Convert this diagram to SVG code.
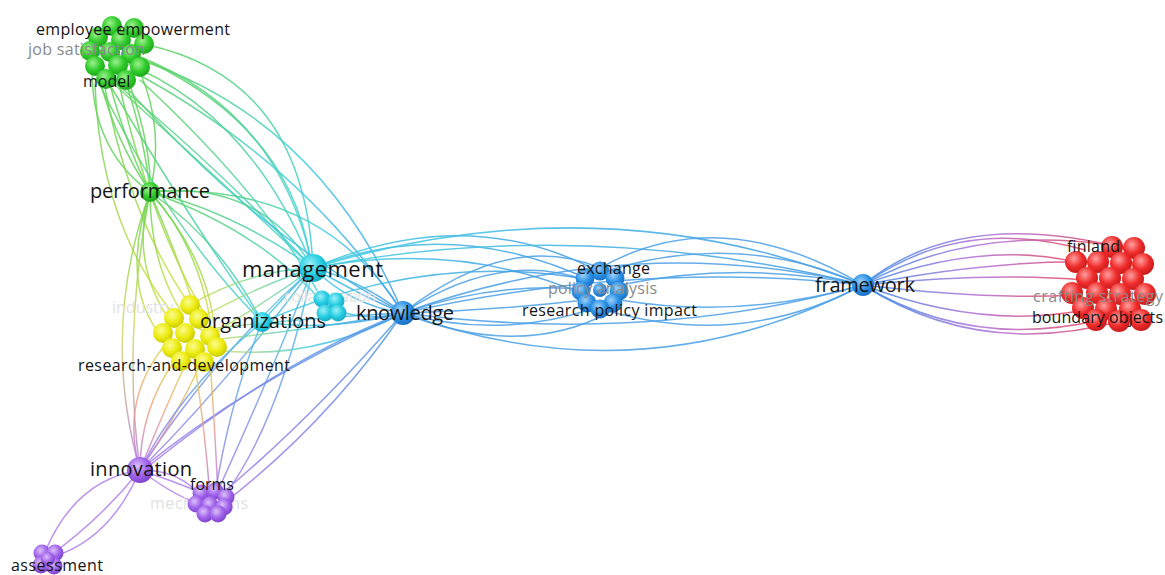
<svg xmlns="http://www.w3.org/2000/svg" width="1165" height="575" viewBox="0 0 1165 575">
  <style>
    .lbl { font-family: "Open Sans", "Liberation Sans", sans-serif; fill: #151515; }
    .big { font-size: 20px; }
    .sm { font-size: 16px; }
    .grey { fill: #8a8a8a; }
    .faint { fill: #e2e2e2; }
    #connectors path { fill: none; stroke-width: 1.5; stroke-opacity: 0.85; stroke-linecap: round; }
    .cG { stroke: #62d45a; }
    .cB { stroke: #4aa0e6; }
    .cP { stroke: #b080ea; }
    .cGC { stroke: url(#gGC); }
    .cGB { stroke: url(#gGB); }
    .cGY { stroke: url(#gGY); }
    .cGP { stroke: url(#gGP); }
    .cCB { stroke: url(#gCB); }
    .cYC { stroke: url(#gYC); }
    .cYB { stroke: url(#gYB); }
    .cCP { stroke: url(#gCP); }
    .cBP { stroke: url(#gBP); }
    .cBR { stroke: url(#gBR); }
    .cYP { stroke: url(#gYP); }
    .sG { fill: url(#sphG); }
    .sY { fill: url(#sphY); }
    .sC { fill: url(#sphC); }
    .sB { fill: url(#sphB); }
    .sR { fill: url(#sphR); }
    .sP { fill: url(#sphP); }
  </style>
  <defs>
    <!-- edge colour blends -->
    <linearGradient id="gGC" x1="0" y1="0" x2="1" y2="1"><stop offset="0" stop-color="#5fd35a"/><stop offset="1" stop-color="#3fd0e2"/></linearGradient>
    <linearGradient id="gGB" x1="0" y1="0" x2="1" y2="1"><stop offset="0" stop-color="#5fd35a"/><stop offset="0.5" stop-color="#3fd0e2"/><stop offset="1" stop-color="#3f9ae6"/></linearGradient>
    <linearGradient id="gGY" x1="0" y1="0" x2="0" y2="1"><stop offset="0" stop-color="#5fd35a"/><stop offset="1" stop-color="#d8e040"/></linearGradient>
    <linearGradient id="gGP" x1="0" y1="0" x2="0" y2="1"><stop offset="0" stop-color="#6fd44a"/><stop offset="0.5" stop-color="#d6d860"/><stop offset="1" stop-color="#b47ee6"/></linearGradient>
    <linearGradient id="gCB" x1="0" y1="0" x2="1" y2="0"><stop offset="0" stop-color="#3fcfe0"/><stop offset="1" stop-color="#3f96e4"/></linearGradient>
    <linearGradient id="gYC" x1="0" y1="0" x2="1" y2="0"><stop offset="0" stop-color="#d6df4a"/><stop offset="1" stop-color="#3fcfe0"/></linearGradient>
    <linearGradient id="gYB" x1="0" y1="0" x2="1" y2="0"><stop offset="0" stop-color="#cfe05a"/><stop offset="0.5" stop-color="#4ccfe0"/><stop offset="1" stop-color="#3f96e4"/></linearGradient>
    <linearGradient id="gCP" x1="0" y1="0" x2="0" y2="1"><stop offset="0" stop-color="#45c8e2"/><stop offset="1" stop-color="#a77ce8"/></linearGradient>
    <linearGradient id="gBP" x1="0" y1="0" x2="0" y2="1"><stop offset="0" stop-color="#4a9ee6"/><stop offset="1" stop-color="#a97ae8"/></linearGradient>
    <linearGradient id="gBR" x1="0" y1="0" x2="1" y2="0"><stop offset="0" stop-color="#3f8fe6"/><stop offset="0.5" stop-color="#b070d8"/><stop offset="1" stop-color="#e6405a"/></linearGradient>
    <linearGradient id="gYP" x1="0" y1="0" x2="0" y2="1"><stop offset="0" stop-color="#e0d84a"/><stop offset="0.5" stop-color="#eaa090"/><stop offset="1" stop-color="#b07ae8"/></linearGradient>
    <!-- sphere shading for nodes -->
    <radialGradient id="sphG" cx="0.4" cy="0.35" r="0.7"><stop offset="0" stop-color="#9ef08e"/><stop offset="0.55" stop-color="#2fcc2a"/><stop offset="1" stop-color="#1ea01c"/></radialGradient>
    <radialGradient id="sphY" cx="0.4" cy="0.35" r="0.7"><stop offset="0" stop-color="#fbfb90"/><stop offset="0.55" stop-color="#ecec10"/><stop offset="1" stop-color="#c4c400"/></radialGradient>
    <radialGradient id="sphC" cx="0.4" cy="0.35" r="0.7"><stop offset="0" stop-color="#9cf0f8"/><stop offset="0.55" stop-color="#26cde2"/><stop offset="1" stop-color="#16a6c0"/></radialGradient>
    <radialGradient id="sphB" cx="0.4" cy="0.35" r="0.7"><stop offset="0" stop-color="#9ed2fa"/><stop offset="0.55" stop-color="#2a90e4"/><stop offset="1" stop-color="#1a6cc0"/></radialGradient>
    <radialGradient id="sphR" cx="0.4" cy="0.35" r="0.7"><stop offset="0" stop-color="#ffa0a0"/><stop offset="0.55" stop-color="#f02c2c"/><stop offset="1" stop-color="#c01818"/></radialGradient>
    <radialGradient id="sphP" cx="0.4" cy="0.35" r="0.7"><stop offset="0" stop-color="#dcc0fa"/><stop offset="0.55" stop-color="#a062ea"/><stop offset="1" stop-color="#7a40c8"/></radialGradient>
  </defs>

  <rect width="1165" height="575" fill="#ffffff"/>

  <g id="connectors">
    <!-- green cluster to performance -->
    <path class="cG" d="M100,80 Q115,140 150,192"/>
    <path class="cG" d="M110,85 Q128,150 150,192"/>
    <path class="cG" d="M125,80 Q145,140 150,192"/>
    <path class="cG" d="M140,72 Q165,130 150,192"/>
    <path class="cG" d="M92,70 Q92,150 150,192"/>
    <path class="cG" d="M130,85 Q152,150 150,192"/>
    <!-- green cluster to management / knowledge / organizations -->
    <path class="cGC" d="M118,60 Q250,110 313,268"/>
    <path class="cGC" d="M135,55 Q280,110 313,268"/>
    <path class="cGC" d="M148,45 Q305,80 313,268"/>
    <path class="cGC" d="M105,75 Q200,150 313,268"/>
    <path class="cGC" d="M115,85 Q220,180 313,268"/>
    <path class="cGC" d="M150,62 Q290,130 310,258"/>
    <path class="cGB" d="M140,60 Q320,120 403,313"/>
    <path class="cGB" d="M130,70 Q300,160 403,313"/>
    <path class="cGB" d="M120,80 Q250,230 403,313"/>
    <path class="cGC" d="M110,85 Q190,220 262,322"/>
    <path class="cGC" d="M100,85 Q170,230 262,322"/>
    <path class="cGC" d="M140,80 Q270,200 325,305"/>
    <!-- green cluster to yellow cluster -->
    <path class="cGY" d="M95,85 Q100,220 170,310"/>
    <path class="cGY" d="M105,88 Q130,220 190,305"/>
    <path class="cGY" d="M120,88 Q150,220 205,315"/>
    <!-- performance -->
    <path class="cGY" d="M150,192 Q130,260 168,318"/>
    <path class="cGY" d="M150,192 Q150,260 180,310"/>
    <path class="cGY" d="M150,192 Q175,250 195,308"/>
    <path class="cGY" d="M150,192 Q195,240 210,318"/>
    <path class="cGY" d="M150,192 Q210,260 215,335"/>
    <path class="cGY" d="M150,192 Q118,290 165,340"/>
    <path class="cGP" d="M150,192 Q100,330 140,470"/>
    <path class="cGP" d="M150,192 Q122,340 140,470"/>
    <path class="cGC" d="M150,192 Q230,210 313,268"/>
    <path class="cGC" d="M150,192 Q260,180 313,268"/>
    <path class="cGB" d="M150,192 Q320,180 403,313"/>
    <path class="cGC" d="M150,192 Q220,240 262,322"/>
    <path class="cGC" d="M150,192 Q260,230 325,305"/>
    <!-- management -->
    <path class="cCB" d="M313,268 Q360,280 403,313"/>
    <path class="cCB" d="M313,268 Q370,300 403,313"/>
    <path class="cCB" d="M313,268 Q350,305 403,313"/>
    <path class="cCB" d="M313,268 Q450,215 590,280"/>
    <path class="cCB" d="M313,268 Q460,240 585,295"/>
    <path class="cCB" d="M313,268 Q470,200 605,275"/>
    <path class="cCB" d="M313,268 Q600,180 863,285"/>
    <path class="cCB" d="M313,268 Q580,215 863,285"/>
    <path class="cYC" d="M200,318 Q260,285 313,268"/>
    <path class="cYC" d="M210,335 Q270,300 313,268"/>
    <path class="cYC" d="M190,305 Q250,270 313,268"/>
    <path class="cCB" d="M262,322 Q290,290 313,268"/>
    <path class="cCP" d="M313,268 Q210,360 140,470"/>
    <path class="cCP" d="M313,268 Q230,380 140,470"/>
    <path class="cCP" d="M313,268 Q260,400 215,497"/>
    <path class="cCP" d="M313,268 Q280,420 225,495"/>
    <!-- knowledge -->
    <path class="cB" d="M403,313 Q500,250 585,280"/>
    <path class="cB" d="M403,313 Q500,280 590,290"/>
    <path class="cB" d="M403,313 Q500,310 585,300"/>
    <path class="cB" d="M403,313 Q500,340 595,308"/>
    <path class="cB" d="M403,313 Q510,230 600,268"/>
    <path class="cB" d="M403,313 Q520,360 610,312"/>
    <path class="cB" d="M403,313 Q630,230 863,285"/>
    <path class="cB" d="M403,313 Q640,400 863,285"/>
    <path class="cB" d="M403,313 Q640,260 863,285"/>
    <path class="cB" d="M403,313 Q650,345 863,285"/>
    <path class="cYB" d="M210,340 Q310,330 403,313"/>
    <path class="cYB" d="M215,350 Q310,362 403,313"/>
    <path class="cYB" d="M200,330 Q300,318 403,313"/>
    <path class="cCB" d="M262,322 Q330,332 403,313"/>
    <path class="cBP" d="M403,313 Q250,380 140,470"/>
    <path class="cBP" d="M403,313 Q280,360 150,465"/>
    <path class="cBP" d="M403,313 Q310,420 220,495"/>
    <path class="cBP" d="M403,313 Q330,420 228,500"/>
    <path class="cCB" d="M335,310 Q370,322 403,313"/>
    <path class="cCB" d="M262,322 Q430,250 590,280"/>
    <!-- exchange to framework -->
    <path class="cB" d="M610,270 Q740,230 863,285"/>
    <path class="cB" d="M620,285 Q740,260 863,285"/>
    <path class="cB" d="M620,300 Q740,320 863,285"/>
    <path class="cB" d="M605,310 Q740,350 863,285"/>
    <path class="cB" d="M600,268 Q720,200 863,285"/>
    <!-- framework to finland cluster -->
    <path class="cBR" d="M863,285 Q960,215 1085,250"/>
    <path class="cBR" d="M863,285 Q970,225 1110,245"/>
    <path class="cBR" d="M863,285 Q980,240 1075,262"/>
    <path class="cBR" d="M863,285 Q990,260 1095,262"/>
    <path class="cBR" d="M863,285 Q990,272 1085,280"/>
    <path class="cBR" d="M863,285 Q990,300 1075,295"/>
    <path class="cBR" d="M863,285 Q980,330 1085,310"/>
    <path class="cBR" d="M863,285 Q970,350 1100,320"/>
    <path class="cBR" d="M863,285 Q960,205 1130,250"/>
    <path class="cBR" d="M863,285 Q980,360 1125,320"/>
    <!-- yellow / organizations to innovation and forms -->
    <path class="cYP" d="M175,360 Q140,410 140,470"/>
    <path class="cYP" d="M185,365 Q160,420 140,470"/>
    <path class="cYP" d="M165,345 Q120,400 140,470"/>
    <path class="cYP" d="M200,365 Q175,420 140,470"/>
    <path class="cCP" d="M262,322 Q180,390 140,470"/>
    <path class="cYP" d="M195,365 Q205,430 210,497"/>
    <path class="cYP" d="M210,360 Q215,430 218,495"/>
    <path class="cCP" d="M262,322 Q230,400 215,495"/>
    <!-- innovation -->
    <path class="cP" d="M140,470 Q170,480 200,492"/>
    <path class="cP" d="M140,470 Q180,500 205,505"/>
    <path class="cP" d="M140,470 Q175,470 195,490"/>
    <path class="cP" d="M140,470 Q75,480 45,552"/>
    <path class="cP" d="M140,470 Q110,540 52,557"/>
    <path class="cP" d="M140,470 Q100,520 48,557"/>
  </g>

  <g id="node-green-cluster">
    <circle class="sG" cx="112" cy="26" r="10"/>
    <circle class="sG" cx="134" cy="28" r="10"/>
    <circle class="sG" cx="98" cy="37" r="10"/>
    <circle class="sG" cx="121" cy="40" r="10"/>
    <circle class="sG" cx="144" cy="44" r="10"/>
    <circle class="sG" cx="90" cy="51" r="10"/>
    <circle class="sG" cx="110" cy="52" r="10"/>
    <circle class="sG" cx="131" cy="54" r="10"/>
    <circle class="sG" cx="95" cy="66" r="10"/>
    <circle class="sG" cx="118" cy="65" r="10"/>
    <circle class="sG" cx="140" cy="67" r="10"/>
    <circle class="sG" cx="106" cy="79" r="10"/>
    <circle class="sG" cx="126" cy="80" r="10"/>
    <text class="lbl sm" x="36" y="35" textLength="194">employee empowerment</text>
    <text class="lbl sm grey" x="28" y="55" textLength="117">job satisfaction</text>
    <text class="lbl sm" x="83" y="87">model</text>
  </g>

  <g id="node-performance">
    <circle class="sG" cx="150" cy="192" r="10"/>
    <text class="lbl big" x="90" y="198" textLength="120">performance</text>
  </g>

  <g id="node-yellow-cluster">
    <text class="lbl sm faint" x="112" y="313">industry</text>
    <circle class="sY" cx="190" cy="305" r="10"/>
    <circle class="sY" cx="174" cy="318" r="10"/>
    <circle class="sY" cx="199" cy="319" r="10"/>
    <circle class="sY" cx="163" cy="333" r="10"/>
    <circle class="sY" cx="185" cy="333" r="10"/>
    <circle class="sY" cx="210" cy="336" r="10"/>
    <circle class="sY" cx="172" cy="348" r="10"/>
    <circle class="sY" cx="195" cy="349" r="10"/>
    <circle class="sY" cx="217" cy="347" r="10"/>
    <circle class="sY" cx="181" cy="361" r="10"/>
    <circle class="sY" cx="204" cy="362" r="10"/>
    <text class="lbl sm" x="78" y="371" textLength="212">research-and-development</text>
  </g>

  <g id="node-organizations">
    <circle class="sC" cx="262" cy="322" r="10"/>
    <text class="lbl big" x="200" y="328" textLength="126">organizations</text>
  </g>

  <g id="node-collaboration">
    <text class="lbl sm faint" x="284" y="302" textLength="92">collaboration</text>
    <circle class="sC" cx="322" cy="299" r="8.5"/>
    <circle class="sC" cx="336" cy="301" r="8.5"/>
    <circle class="sC" cx="325" cy="313" r="8.5"/>
    <circle class="sC" cx="338" cy="313" r="8.5"/>
  </g>

  <g id="node-management">
    <circle class="sC" cx="313" cy="268" r="14"/>
    <text class="lbl big" x="242" y="277" style="font-size:22px" textLength="141">management</text>
  </g>

  <g id="node-knowledge">
    <circle class="sB" cx="403" cy="313" r="12"/>
    <text class="lbl big" x="356" y="320" textLength="98">knowledge</text>
  </g>

  <g id="node-innovation">
    <circle class="sP" cx="140" cy="470" r="13"/>
    <text class="lbl big" x="90" y="476" textLength="102">innovation</text>
  </g>

  <g id="node-forms">
    <text class="lbl sm faint" x="150" y="509" textLength="98">mechanisms</text>
    <circle class="sP" cx="201" cy="493" r="8.5"/>
    <circle class="sP" cx="215" cy="491" r="8.5"/>
    <circle class="sP" cx="226" cy="497" r="8.5"/>
    <circle class="sP" cx="196" cy="504" r="8.5"/>
    <circle class="sP" cx="210" cy="505" r="8.5"/>
    <circle class="sP" cx="224" cy="507" r="8.5"/>
    <circle class="sP" cx="205" cy="514" r="8.5"/>
    <circle class="sP" cx="218" cy="514" r="8.5"/>
    <text class="lbl sm" x="190" y="490">forms</text>
  </g>

  <g id="node-assessment">
    <circle class="sP" cx="42" cy="553" r="8.5"/>
    <circle class="sP" cx="55" cy="553" r="8.5"/>
    <circle class="sP" cx="41" cy="565" r="8.5"/>
    <circle class="sP" cx="54" cy="566" r="8.5"/>
    <circle class="sP" cx="48" cy="559" r="7"/>
    <text class="lbl sm" x="11" y="571" textLength="92">assessment</text>
  </g>

  <g id="node-exchange-cluster">
    <circle class="sB" cx="600" cy="271" r="9.5"/>
    <circle class="sB" cx="585" cy="278" r="9.5"/>
    <circle class="sB" cx="615" cy="278" r="9.5"/>
    <circle class="sB" cx="581" cy="291" r="9.5"/>
    <circle class="sB" cx="619" cy="291" r="9.5"/>
    <circle class="sB" cx="587" cy="303" r="9.5"/>
    <circle class="sB" cx="613" cy="303" r="9.5"/>
    <circle class="sB" cx="600" cy="309" r="9.5"/>
    <circle class="sB" cx="600" cy="290" r="7"/>
    <text class="lbl sm" x="577" y="274" textLength="73">exchange</text>
    <text class="lbl sm grey" x="548" y="294" textLength="109">policy analysis</text>
    <text class="lbl sm" x="522" y="316" textLength="175">research policy impact</text>
  </g>

  <g id="node-framework">
    <circle class="sB" cx="863" cy="285" r="11"/>
    <text class="lbl big" x="815" y="292" textLength="100">framework</text>
  </g>

  <g id="node-finland-cluster">
    <circle class="sR" cx="1112" cy="247" r="11"/>
    <circle class="sR" cx="1134" cy="248" r="11"/>
    <circle class="sR" cx="1076" cy="262" r="11"/>
    <circle class="sR" cx="1098" cy="262" r="11"/>
    <circle class="sR" cx="1121" cy="263" r="11"/>
    <circle class="sR" cx="1143" cy="264" r="11"/>
    <circle class="sR" cx="1087" cy="278" r="11"/>
    <circle class="sR" cx="1110" cy="278" r="11"/>
    <circle class="sR" cx="1133" cy="279" r="11"/>
    <circle class="sR" cx="1072" cy="293" r="11"/>
    <circle class="sR" cx="1097" cy="293" r="11"/>
    <circle class="sR" cx="1120" cy="294" r="11"/>
    <circle class="sR" cx="1145" cy="294" r="11"/>
    <circle class="sR" cx="1083" cy="308" r="11"/>
    <circle class="sR" cx="1106" cy="309" r="11"/>
    <circle class="sR" cx="1130" cy="309" r="11"/>
    <circle class="sR" cx="1096" cy="320" r="11"/>
    <circle class="sR" cx="1119" cy="321" r="11"/>
    <circle class="sR" cx="1141" cy="320" r="11"/>
    <text class="lbl sm" x="1067" y="252" textLength="53">finland</text>
    <text class="lbl sm grey" x="1033" y="302" textLength="130">crafting strategy</text>
    <text class="lbl sm" x="1032" y="323" textLength="131">boundary objects</text>
  </g>
</svg>
